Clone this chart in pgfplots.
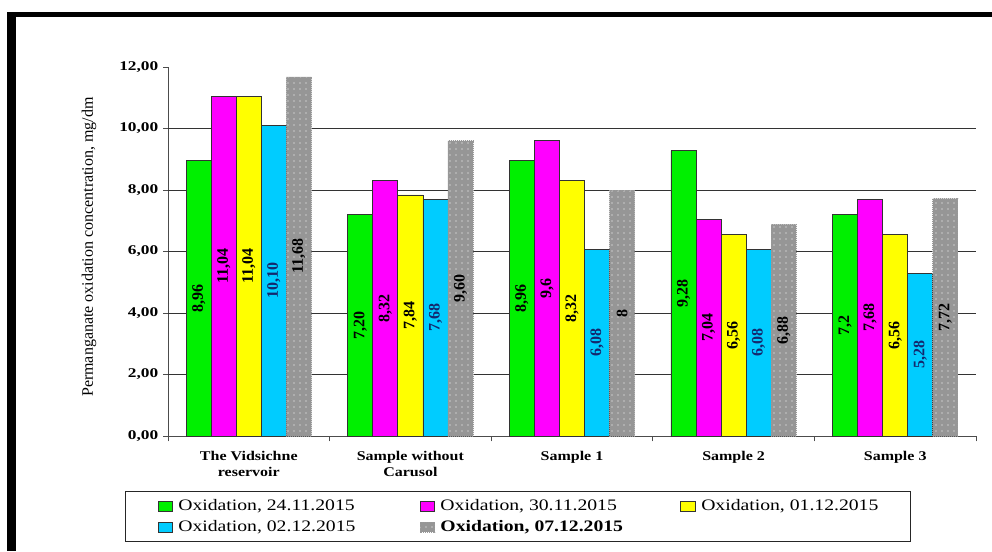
\documentclass[border=0pt]{standalone}
\usepackage{fontspec}
\setmainfont{Liberation Serif}
\newfontfamily\tickfont{Liberation Serif Bold}[FakeStretch=1.3]
\newfontfamily\catfont{Liberation Serif Bold}[FakeStretch=1.2]
\newfontfamily\legfont{Liberation Serif}[FakeStretch=1.23]
\newfontfamily\legbold{Liberation Serif Bold}[FakeStretch=1.23]
\usepackage{pgfplots}
\pgfplotsset{compat=1.18}
\usepackage{pgfplotstable}
\usetikzlibrary{patterns.meta}

\definecolor{cgreen}{RGB}{0,240,0}
\definecolor{cmag}{RGB}{255,0,255}
\definecolor{cyel}{RGB}{255,255,0}
\definecolor{ccyan}{RGB}{0,204,255}
\definecolor{cgrey}{RGB}{150,150,150}
\definecolor{navylab}{RGB}{20,40,110}

% one table per sampling date; x = site index
\pgfplotstableread{
x v lbl
0 8.96 8,96
1 7.20 7,20
2 8.96 8,96
3 9.28 9,28
4 7.2 7,2
}\tA
\pgfplotstableread{
x v lbl
0 11.04 11,04
1 8.32 8,32
2 9.6 9,6
3 7.04 7,04
4 7.68 7,68
}\tB
\pgfplotstableread{
x v lbl
0 11.04 11,04
1 7.84 7,84
2 8.32 8,32
3 6.56 6,56
4 6.56 6,56
}\tC
\pgfplotstableread{
x v lbl
0 10.10 10,10
1 7.68 7,68
2 6.08 6,08
3 6.08 6,08
4 5.28 5,28
}\tD
\pgfplotstableread{
x v lbl
0 11.68 11,68
1 9.60 9,60
2 8 8
3 6.88 6,88
4 7.72 7,72
}\tE

\begin{document}
\begin{tikzpicture}
\useasboundingbox (0pt,0pt) rectangle (744pt,413.25pt);
% frame
\fill[black] (5.25pt,0pt) rectangle (12pt,404.25pt);
\fill[black] (5.25pt,400.5pt) rectangle (744pt,404.25pt);
\begin{axis}[
  at={(126pt,86.25pt)}, anchor=south west,
  scale only axis, width=606pt, height=276.75pt,
  xmin=-0.5, xmax=4.5, ymin=0, ymax=12,
  axis x line*=bottom, axis y line*=left,
  axis line style={black!70, line width=0.7pt},
  tick align=outside,
  major tick length=3.75pt, minor tick length=4pt,
  every tick/.style={black!70, line width=0.7pt},
  xtick={0,1,2,3,4},
  major x tick style={draw=none},
  minor xtick={-0.5,0.5,1.5,2.5,3.5,4.5},
  xticklabels={{The Vidsichne\\reservoir},{Sample without\\Carusol},{Sample 1},{Sample 2},{Sample 3}},
  x tick label style={font=\catfont\fontsize{10}{12}\selectfont, align=center, yshift=-4pt},
  ytick={0,2,...,12},
  extra y ticks={2,4,6,8,10},
  extra y tick labels={},
  extra y tick style={grid=major, major tick length=0pt},
  major grid style={black!80, line width=0.7pt},
  /pgf/number format/assume math mode=true,
  yticklabel={\pgfmathprintnumber[fixed,fixed zerofill,precision=2,use comma]{\tick}},
  y tick label style={font=\tickfont\fontsize{10}{12}\selectfont},
  ylabel={Permanganate oxidation concentration, mg/dm},
  ylabel style={font=\fontsize{12}{14}\selectfont, at={(axis description cs:-0.0978,0.512)}, anchor=center},
  ybar, bar width=0.155,
  nodes near coords, point meta=explicit symbolic,
  visualization depends on={\thisrow{v}/2 \as \half},
  every node near coord/.append style={font=\bfseries\fontsize{12}{12}\selectfont,
     yshift=-\half*23.0625pt, rotate=90, anchor=center, inner sep=0pt},
  legend image code/.code={\draw[#1] (0pt,-3.75pt) rectangle (11pt,3.75pt); \path (15pt,0pt);},
  legend columns=3,
  legend cell align=left,
  legend style={at={(-0.0532,-0.149)}, anchor=north west, draw=black!85, line width=0.8pt,
     inner xsep=24pt, inner ysep=5pt, column sep=0pt, row sep=3.75pt,
     font=\legfont\fontsize{12}{14}\selectfont,
     nodes={inner xsep=0pt, inner ysep=0pt, text height=9pt, text depth=3pt}},
]
\addplot[fill=cgreen, draw=black!80, line width=0.6pt, bar shift=-0.31]
  table[x=x, y=v, meta=lbl]{\tA};
\addlegendentry{\makebox[181pt][l]{Oxidation, 24.11.2015}}
\addplot[fill=cmag, draw=black!80, line width=0.6pt, bar shift=-0.155]
  table[x=x, y=v, meta=lbl]{\tB};
\addlegendentry{\makebox[180pt][l]{Oxidation, 30.11.2015}}
\addplot[fill=cyel, draw=black!80, line width=0.6pt, bar shift=0]
  table[x=x, y=v, meta=lbl]{\tC};
\addlegendentry{Oxidation, 01.12.2015}
\addplot[fill=ccyan, draw=black!80, line width=0.6pt, bar shift=0.155,
  every node near coord/.append style={text=navylab}]
  table[x=x, y=v, meta=lbl]{\tD};
\addlegendentry{\makebox[181pt][l]{Oxidation, 02.12.2015}}
\addplot[fill=cgrey, draw=black!40, densely dotted, line width=0.5pt, bar shift=0.31,
  postaction={pattern={Dots[distance=4.5pt,radius=0.5pt]}, pattern color=white}]
  table[x=x, y=v, meta=lbl]{\tE};
\addlegendentry{\legbold Oxidation, 07.12.2015}
\end{axis}
\end{tikzpicture}
\end{document}
